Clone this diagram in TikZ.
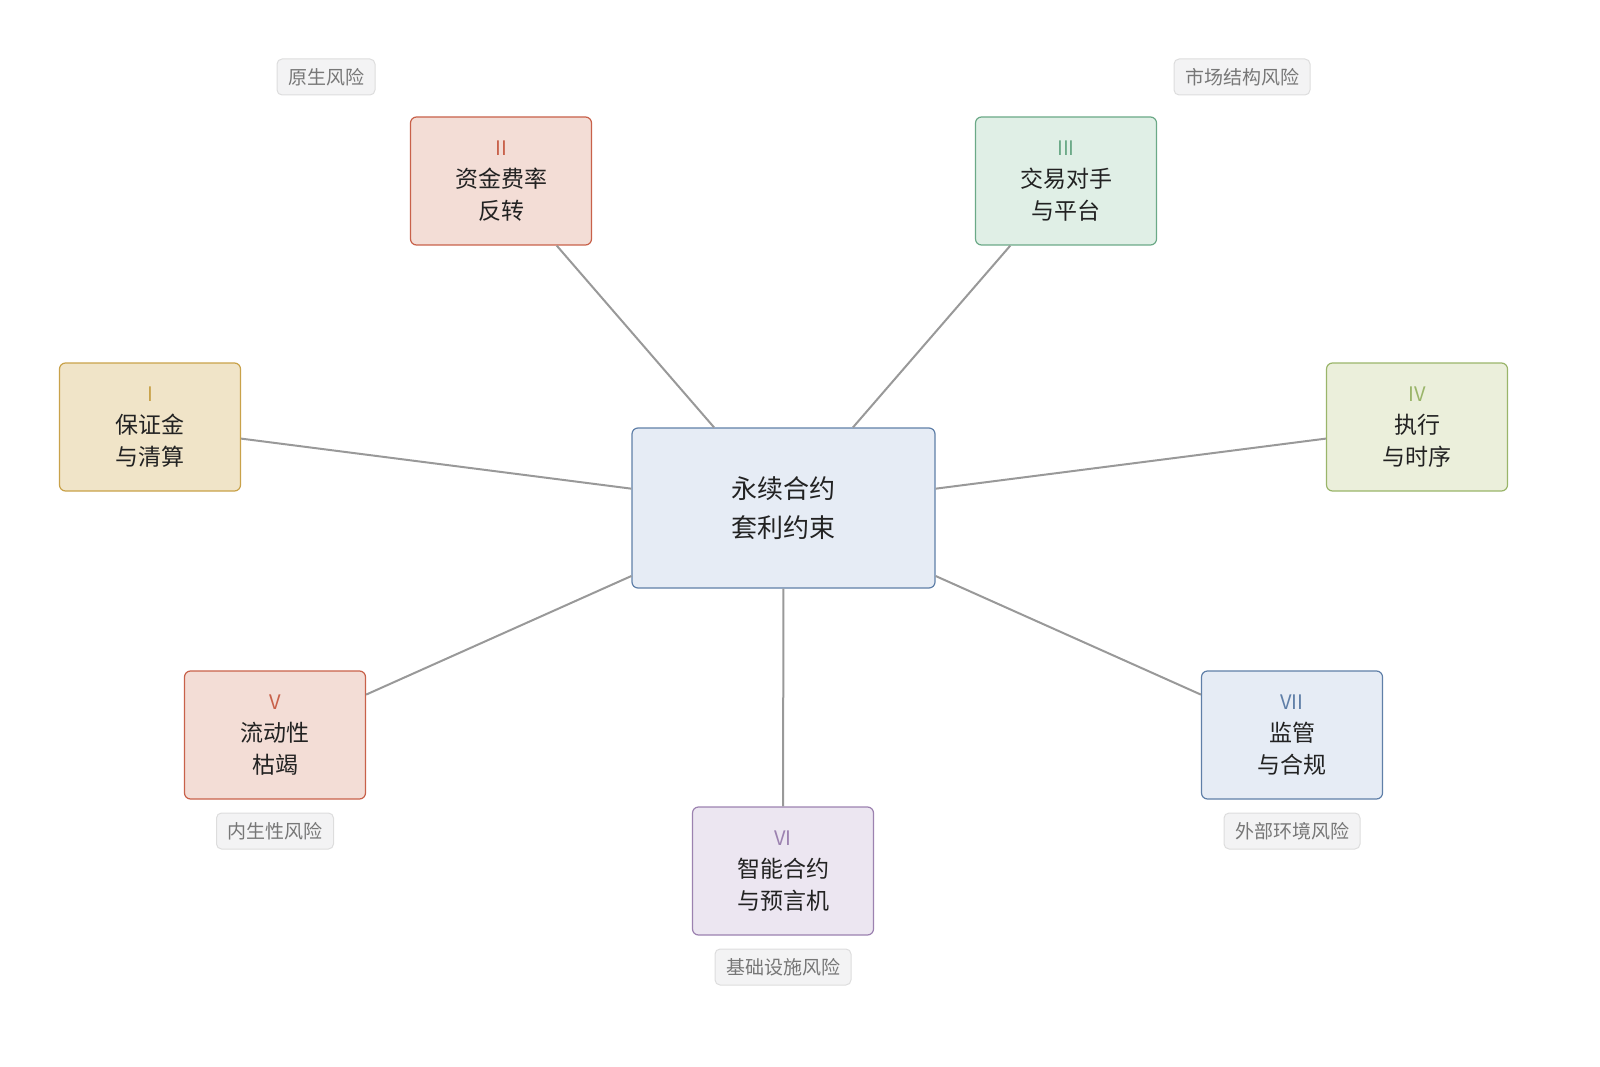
\documentclass[tikz,border=0pt]{standalone}
\usepackage{fontspec}
\setmainfont{Noto Sans CJK SC}
\usepackage{tikz}
\usetikzlibrary{positioning}

\definecolor{linegray}{HTML}{999999}
\definecolor{ctrfill}{HTML}{E6ECF5}\definecolor{ctrdraw}{HTML}{5F7FA8}
\definecolor{yelfill}{HTML}{F0E4C8}\definecolor{yeldraw}{HTML}{C9A24A}
\definecolor{redfill}{HTML}{F3DDD6}\definecolor{reddraw}{HTML}{C8614A}
\definecolor{grnfill}{HTML}{E0EFE6}\definecolor{grndraw}{HTML}{6BA987}
\definecolor{olvfill}{HTML}{EBEFDB}\definecolor{olvdraw}{HTML}{9AB56A}
\definecolor{purfill}{HTML}{ECE6F1}\definecolor{purdraw}{HTML}{9C82B0}
\definecolor{tagfill}{HTML}{F3F3F4}\definecolor{tagdraw}{HTML}{DDDDDD}
\definecolor{tagtext}{HTML}{777777}
\definecolor{textdark}{HTML}{222222}

\newcommand{\rnum}[2]{{\fontsize{20}{32}\selectfont\color{#1}#2}}

\begin{document}
\begin{tikzpicture}[
    x=1pt, y=-1pt,
    risk/.style={rectangle, rounded corners=6pt, line width=1.2pt, minimum width=181pt,
                 minimum height=128pt, align=center, text=textdark,
                 font=\fontsize{23}{32}\selectfont},
    hub/.style={risk, minimum width=303pt, minimum height=160pt, fill=ctrfill, draw=ctrdraw,
                font=\fontsize{26}{39}\selectfont},
    tag/.style={rectangle, rounded corners=5pt, fill=tagfill, draw=tagdraw, line width=1pt,
                minimum height=36pt, inner xsep=11pt, text=tagtext, font=\fontsize{19}{20}\selectfont},
    link/.style={draw=linegray, line width=2pt}
]
    \useasboundingbox (0,0) rectangle (1600,1067);

    % Hub
    \node[hub] (hub) at (783.5,508) {永续合约\\套利约束};

    % Risk boxes
    \node[risk, fill=yelfill, draw=yeldraw] (margin) at (150,427)
        {\rnum{yeldraw}{I}\\保证金\\与清算};
    \node[risk, fill=redfill, draw=reddraw] (funding) at (501,181)
        {\rnum{reddraw}{II}\\资金费率\\反转};
    \node[risk, fill=grnfill, draw=grndraw] (counter) at (1066,181)
        {\rnum{grndraw}{III}\\交易对手\\与平台};
    \node[risk, fill=olvfill, draw=olvdraw] (exec) at (1417,427)
        {\rnum{olvdraw}{IV}\\执行\\与时序};
    \node[risk, fill=redfill, draw=reddraw] (liquid) at (275,735)
        {\rnum{reddraw}{V}\\流动性\\枯竭};
    \node[risk, fill=purfill, draw=purdraw] (oracle) at (783,871)
        {\rnum{purdraw}{VI}\\智能合约\\与预言机};
    \node[risk, fill=ctrfill, draw=ctrdraw] (reg) at (1292,735)
        {\rnum{ctrdraw}{VII}\\监管\\与合规};

    % Category tags
    \node[tag] (tnative) at (326,77) {原生风险};
    \node[tag] (tmarket) at (1242,77) {市场结构风险};
    \node[tag] (tendo) at (275,831) {内生性风险};
    \node[tag] (tinfra) at (783,967) {基础设施风险};
    \node[tag] (textern) at (1292,831) {外部环境风险};

    % Spokes
    \foreach \n in {margin, funding, counter, exec, liquid, oracle, reg}
        \draw[link] (hub) -- (\n);

\end{tikzpicture}
\end{document}
